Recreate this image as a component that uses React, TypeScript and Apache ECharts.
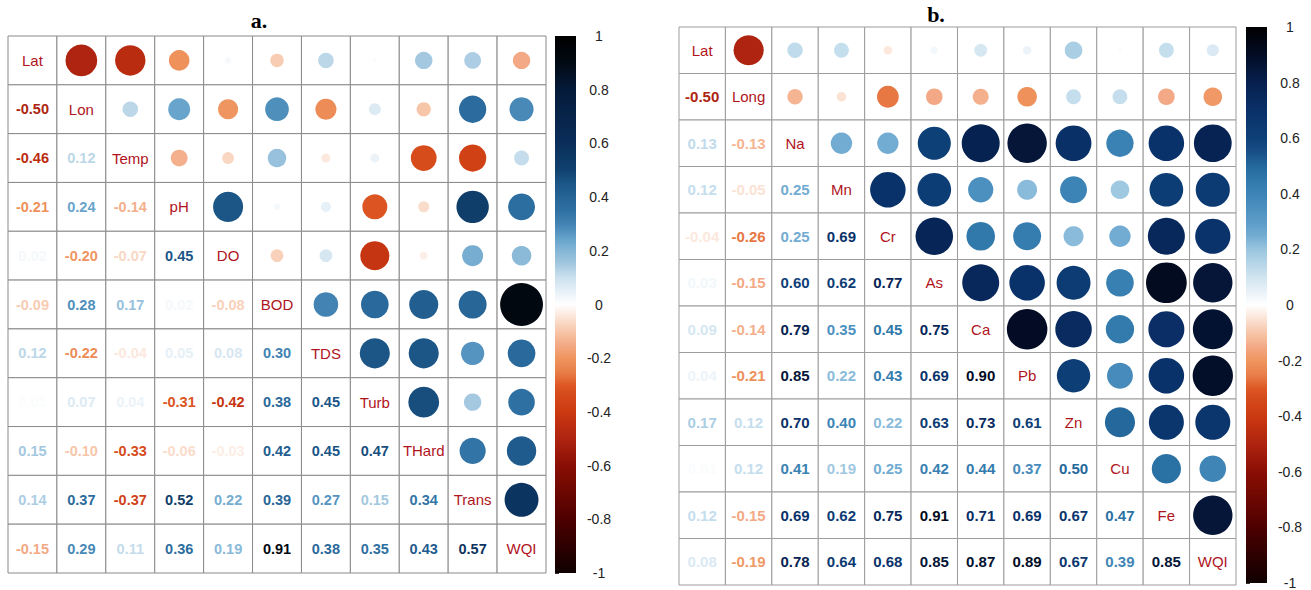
import React, { useEffect, useRef } from "react";
import * as echarts from "echarts";

// ---------- data ----------
const labelsA = ["Lat", "Lon", "Temp", "pH", "DO", "BOD", "TDS", "Turb", "THard", "Trans", "WQI"];
const lowerA: number[][] = [
  [],
  [-0.5],
  [-0.46, 0.12],
  [-0.21, 0.24, -0.14],
  [0.02, -0.2, -0.07, 0.45],
  [-0.09, 0.28, 0.17, 0.02, -0.08],
  [0.12, -0.22, -0.04, 0.05, 0.08, 0.3],
  [0.01, 0.07, 0.04, -0.31, -0.42, 0.38, 0.45],
  [0.15, -0.1, -0.33, -0.06, -0.03, 0.42, 0.45, 0.47],
  [0.14, 0.37, -0.37, 0.52, 0.22, 0.39, 0.27, 0.15, 0.34],
  [-0.15, 0.29, 0.11, 0.36, 0.19, 0.91, 0.38, 0.35, 0.43, 0.57],
];

const labelsB = ["Lat", "Long", "Na", "Mn", "Cr", "As", "Ca", "Pb", "Zn", "Cu", "Fe", "WQI"];
const lowerB: number[][] = [
  [],
  [-0.5],
  [0.13, -0.13],
  [0.12, -0.05, 0.25],
  [-0.04, -0.26, 0.25, 0.69],
  [0.03, -0.15, 0.6, 0.62, 0.77],
  [0.09, -0.14, 0.79, 0.35, 0.45, 0.75],
  [0.04, -0.21, 0.85, 0.22, 0.43, 0.69, 0.9],
  [0.17, 0.12, 0.7, 0.4, 0.22, 0.63, 0.73, 0.61],
  [0.01, 0.12, 0.41, 0.19, 0.25, 0.42, 0.44, 0.37, 0.5],
  [0.12, -0.15, 0.69, 0.62, 0.75, 0.91, 0.71, 0.69, 0.67, 0.47],
  [0.08, -0.19, 0.78, 0.64, 0.68, 0.85, 0.87, 0.89, 0.67, 0.39, 0.85],
];

const colorbarTicks = [-1, -0.8, -0.6, -0.4, -0.2, 0, 0.2, 0.4, 0.6, 0.8, 1];

// ---------- palettes ----------
type Stop = [number, string];
const negStops: Stop[] = [
  [-1, "#0f0000"],
  [-0.8, "#4d0000"],
  [-0.6, "#8a0e04"],
  [-0.5, "#ae2410"],
  [-0.45, "#bd2e10"],
  [-0.4, "#cc3a12"],
  [-0.33, "#d64c1b"],
  [-0.3, "#de5824"],
  [-0.25, "#e97f4b"],
  [-0.2, "#ef955f"],
  [-0.15, "#f3a985"],
  [-0.1, "#f7c6a9"],
  [-0.05, "#fbe2d4"],
  [0, "#ffffff"],
];
const posA: Stop[] = [
  [0, "#ffffff"],
  [0.05, "#e6f0f7"],
  [0.1, "#cce1ee"],
  [0.15, "#a4c8e0"],
  [0.2, "#84b6d6"],
  [0.25, "#62a0c9"],
  [0.3, "#4283b4"],
  [0.35, "#2f70a2"],
  [0.4, "#266496"],
  [0.45, "#1b5687"],
  [0.5, "#10426f"],
  [0.6, "#0a2e5a"],
  [0.8, "#041a3a"],
  [0.91, "#020810"],
  [1, "#000000"],
];
const posB: Stop[] = [
  [0, "#ffffff"],
  [0.05, "#e8f1f7"],
  [0.1, "#d0e4f0"],
  [0.2, "#9ac5df"],
  [0.25, "#72acd2"],
  [0.3, "#5c9cc9"],
  [0.4, "#3c84b5"],
  [0.45, "#3079aa"],
  [0.5, "#24689c"],
  [0.55, "#184f86"],
  [0.6, "#0e4078"],
  [0.7, "#0a3068"],
  [0.8, "#06204e"],
  [0.9, "#030c24"],
  [1, "#000000"],
];

function hexToRgb(h: string) {
  const n = parseInt(h.slice(1), 16);
  return [(n >> 16) & 255, (n >> 8) & 255, n & 255];
}
function makeColor(pos: Stop[]) {
  const stops = [...negStops.slice(0, -1), ...pos];
  return (v: number) => {
    if (v <= stops[0][0]) return stops[0][1];
    for (let i = 1; i < stops.length; i++) {
      if (v <= stops[i][0]) {
        const [a, ca] = stops[i - 1];
        const [b, cb] = stops[i];
        const t = (v - a) / (b - a);
        const A = hexToRgb(ca), B = hexToRgb(cb);
        const c = A.map((x, k) => Math.round(x + (B[k] - x) * t));
        return `rgb(${c[0]},${c[1]},${c[2]})`;
      }
    }
    return stops[stops.length - 1][1];
  };
}
const colorA = makeColor(posA);
const colorB = makeColor(posB);

function fullData(lower: number[][]) {
  const n = lower.length;
  const out: number[][] = [];
  for (let r = 0; r < n; r++) {
    for (let c = 0; c < n; c++) {
      const v = r === c ? 1 : r > c ? lower[r][c] : lower[c][r];
      out.push([c, r, v]);
    }
  }
  return out;
}

const FONT = '"Liberation Sans", Arial, sans-serif';
const LABEL_COLOR = "#b0141c";

function makeMatrixRender(labels: string[], color: (v: number) => string, numSize: number, gridColor: string) {
  return (params: any, api: any) => {
    const c = api.value(0);
    const r = api.value(1);
    const v = api.value(2);
    const [cx, cy] = api.coord([c, r]);
    const [w, h] = api.size([1, 1]);
    const children: any[] = [
      {
        type: "rect",
        shape: { x: cx - w / 2, y: cy - h / 2, width: w, height: h },
        style: { fill: "#ffffff", stroke: gridColor, lineWidth: 1 },
      },
    ];
    if (r === c) {
      children.push({
        type: "text",
        style: {
          text: labels[r],
          x: cx,
          y: cy,
          align: "center",
          verticalAlign: "middle",
          fill: LABEL_COLOR,
          font: `normal 15px ${FONT}`,
        },
      });
    } else if (c < r) {
      children.push({
        type: "text",
        style: {
          text: v.toFixed(2),
          x: cx,
          y: cy,
          align: "center",
          verticalAlign: "middle",
          fill: color(v),
          font: `bold ${numSize}px ${FONT}`,
        },
      });
    } else {
      const rad = Math.sqrt(Math.abs(v)) * 0.46 * Math.min(w, h);
      children.push({
        type: "circle",
        shape: { cx, cy, r: rad },
        style: { fill: color(v) },
      });
    }
    return { type: "group", children };
  };
}

function makeBarRender(color: (v: number) => string) {
  return (params: any, api: any) => {
    const top = api.coord([0, 1]);
    const bot = api.coord([0, -1]);
    const right = api.coord([1, 0]);
    const stops: any[] = [];
    const N = 80;
    for (let i = 0; i <= N; i++) {
      const v = 1 - (2 * i) / N;
      stops.push({ offset: i / N, color: color(v) });
    }
    return {
      type: "rect",
      shape: { x: top[0], y: top[1], width: right[0] - top[0], height: bot[1] - top[1] },
      style: { fill: new echarts.graphic.LinearGradient(0, 0, 0, 1, stops) },
    };
  };
}

const barAxis = (gridIndex: number) => ({
  gridIndex,
  type: "value",
  min: colorbarTicks[0],
  max: colorbarTicks[colorbarTicks.length - 1],
  interval: 0.2,
  position: "right",
  axisLine: { show: false },
  axisTick: { show: true, length: 4, lineStyle: { color: "#333", width: 1 } },
  splitLine: { show: false },
  axisLabel: {
    margin: 23,
    align: "center",
    fontSize: 14,
    color: "#222",
    fontFamily: FONT,
    formatter: (v: number) => String(Math.round(v * 10) / 10),
  },
});

export default function App() {
  const ref = useRef<HTMLDivElement>(null);
  useEffect(() => {
    if (!ref.current) return;
    const chart = echarts.init(ref.current, undefined, { renderer: "svg" });
    chart.setOption({
      animation: false,
      backgroundColor: "#ffffff",
      grid: [
        { left: 8, top: 36, width: 538, height: 537 },
        { left: 555, top: 36, width: 21, height: 537 },
        { left: 679, top: 27, width: 557, height: 558 },
        { left: 1246, top: 27, width: 21, height: 558 },
      ],
      xAxis: [
        { gridIndex: 0, type: "category", data: labelsA, show: false },
        { gridIndex: 1, type: "value", min: 0, max: 1, show: false },
        { gridIndex: 2, type: "category", data: labelsB, show: false },
        { gridIndex: 3, type: "value", min: 0, max: 1, show: false },
      ],
      yAxis: [
        { gridIndex: 0, type: "category", data: labelsA, inverse: true, show: false },
        barAxis(1),
        { gridIndex: 2, type: "category", data: labelsB, inverse: true, show: false },
        barAxis(3),
      ],
      graphic: [
        {
          type: "text",
          x: 259,
          y: 20,
          style: { text: "a.", align: "center", verticalAlign: "middle", font: 'bold 22px "Liberation Serif", serif', fill: "#000" },
        },
        {
          type: "text",
          x: 936,
          y: 14,
          style: { text: "b.", align: "center", verticalAlign: "middle", font: 'bold 22px "Liberation Serif", serif', fill: "#000" },
        },
      ],
      series: [
        {
          type: "custom",
          xAxisIndex: 0,
          yAxisIndex: 0,
          data: fullData(lowerA),
          renderItem: makeMatrixRender(labelsA, colorA, 14.5, "#8a8a8a"),
          clip: false,
          silent: true,
        },
        {
          type: "custom",
          xAxisIndex: 1,
          yAxisIndex: 1,
          data: [[0, 0]],
          renderItem: makeBarRender(colorA),
          clip: false,
          silent: true,
        },
        {
          type: "custom",
          xAxisIndex: 2,
          yAxisIndex: 2,
          data: fullData(lowerB),
          renderItem: makeMatrixRender(labelsB, colorB, 15, "#9c9c9c"),
          clip: false,
          silent: true,
        },
        {
          type: "custom",
          xAxisIndex: 3,
          yAxisIndex: 3,
          data: [[0, 0]],
          renderItem: makeBarRender(colorB),
          clip: false,
          silent: true,
        },
      ],
    });
    return () => chart.dispose();
  }, []);
  return (
    <div
      ref={ref}
      style={{ position: "absolute", left: 0, top: 0, width: 1311, height: 590, background: "#fff" }}
    />
  );
}
